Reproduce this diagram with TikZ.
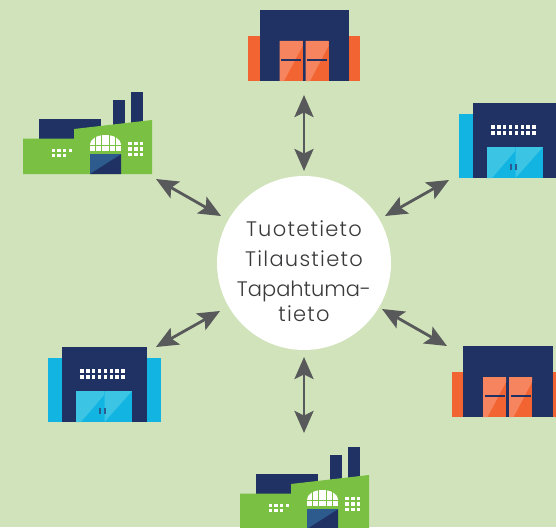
\documentclass[tikz,border=0pt]{standalone}
\usepackage{fontspec}
\setmainfont{Poppins Light}
\usetikzlibrary{arrows.meta}
\definecolor{bgc}{HTML}{D1E3BA}
\definecolor{navy}{HTML}{1F3263}
\definecolor{orng}{HTML}{F26532}
\definecolor{orngl}{HTML}{F6855F}
\definecolor{skyb}{HTML}{12B5E2}
\definecolor{skyl}{HTML}{3CC4E5}
\definecolor{grn}{HTML}{7AC143}
\definecolor{steel}{HTML}{2E5B8E}
\definecolor{arrc}{HTML}{58595B}
\definecolor{txtc}{HTML}{3A3A3C}
\tikzset{
  link/.style={draw=arrc,line width=2.8pt,{Stealth[length=22pt,width=19pt,inset=4.5pt]}-{Stealth[length=22pt,width=19pt,inset=4.5pt]}},
  label/.style={text=txtc,font=\fontsize{21}{21}\selectfont,inner sep=0pt,anchor=base},
  hub/.style={circle,fill=white,minimum size=174pt,inner sep=0pt}
}
\newfontfamily\widefont[LetterSpace=6]{Poppins Light}
% origin of the orange building: navy block's top-left corner
\newcommand{\orangehall}[2]{%
\begin{scope}[shift={(#1,#2)}]
\fill[orng] (-11.5,26) rectangle (100.5,71);
\fill[navy] (0,0) rectangle (89.5,71);
\foreach \d in {20,46}{
  \fill[orng] (\d,31) rectangle ++(23,40);
  \fill[orngl] (\d,31) -- ++(23,0) -- ++(0,5) -- ++(-18.5,35) -- ++(-4.5,0) -- cycle;
}
\foreach \d in {21.5,47.5}
  \fill[navy] (\d,49.2) rectangle ++(20,1.7);
\end{scope}}
% origin of the blue building: navy block's top-left corner
\newcommand{\bluehall}[2]{%
\begin{scope}[shift={(#1,#2)}]
\fill[skyb] (-14.5,11) rectangle (99,75);
\fill[navy] (0,0) rectangle (85,75);
\foreach \i in {0,...,7}{
  \fill[white] (20+\i*5.85-1.7,22.2) rectangle ++(3.4,3.4);
  \fill[white] (20+\i*5.85-1.7,28.2) rectangle ++(3.4,3.4);
}
\fill[skyb] (14,44) rectangle ++(56,31);
\fill[skyl] (14,44) -- ++(28,0) -- ++(0,4) -- ++(-23,27) -- ++(-5,0) -- cycle;
\fill[skyl] (42.5,44) -- ++(27.5,0) -- ++(-27.5,31) -- cycle;
\fill[steel] (37.2,61) rectangle ++(1.6,5.5);
\fill[steel] (42.2,61) rectangle ++(1.6,5.5);
\end{scope}}
% origin of the factory: bottom-left corner of the green body
\newcommand{\factory}[2]{%
\begin{scope}[shift={(#1,#2)}]
\fill[navy] (16,-55) rectangle (78,-35);
\fill[navy] (90,-74) rectangle (102,-45);
\fill[navy] (108,-82) rectangle (119.5,-45);
\fill[grn] (0,-35.5) -- (51,-35.5) -- (51,-45) -- (129,-54) -- (129,0) -- (0,0) -- cycle;
\fill[steel] (67,-19.7) rectangle (98,0);
\fill[navy] (67,0) -- (98,-19.7) -- (98,0) -- cycle;
\begin{scope}
\clip (67,-40) rectangle (98,-29.5);
\fill[white] (82.5,-29.5) ellipse (15.5 and 9.5);
\end{scope}
\fill[white] (67,-28.3) rectangle (98,-23.3);
\foreach \x in {72.3,78.7,86.3,92.7} \draw[grn,line width=.8pt] (\x,-40) -- (\x,-23);
\foreach \x in {30.5,36,41.5,47.5} \fill[white] (\x-1.6,-25.5) rectangle ++(3.2,3.2);
\foreach \x in {30.5,36,41.5} \fill[white] (\x-1.6,-20) rectangle ++(3.2,3.2);
\foreach \x in {107,113,118.5} \foreach \y in {-30.5,-25,-19.5}
  \fill[white] (\x-1.6,\y-1.6) rectangle ++(3.2,3.2);
\end{scope}}
\begin{document}
\begin{tikzpicture}[x=1pt,y=-1pt]
\useasboundingbox (0,0) rectangle (556,527);
\clip (0,0) rectangle (556,527);
\fill[bgc] (0,0) rectangle (556,527);
\orangehall{259.5}{10}
\orangehall{463}{346}
\bluehall{473}{103}
\bluehall{62}{347}
\factory{23}{174}
\factory{240}{529}
\node[hub] (hub) at (304,263) {};
\node[label] (l1) at (304,236) {\widefont Tuotetieto};
\node[label] (l2) at (304,266) {\widefont Tilaustieto};
\node[label] (l3) at (304,296) {Tapahtuma-};
\node[label] (l4) at (304,321) {\widefont tieto};
\coordinate (na) at (304,95);  \coordinate (nb) at (304,171);
\coordinate (sa) at (304,357); \coordinate (sb) at (304,433);
\coordinate (wa) at (156,179); \coordinate (wb) at (221,216);
\coordinate (ea) at (449,180); \coordinate (eb) at (385,216);
\coordinate (xa) at (156,347); \coordinate (xb) at (220,311);
\coordinate (ya) at (447,346); \coordinate (yb) at (382,309);
\draw[link] (na) -- (nb);
\draw[link] (sa) -- (sb);
\draw[link] (wa) -- (wb);
\draw[link] (ea) -- (eb);
\draw[link] (xa) -- (xb);
\draw[link] (ya) -- (yb);
\end{tikzpicture}
\end{document}
